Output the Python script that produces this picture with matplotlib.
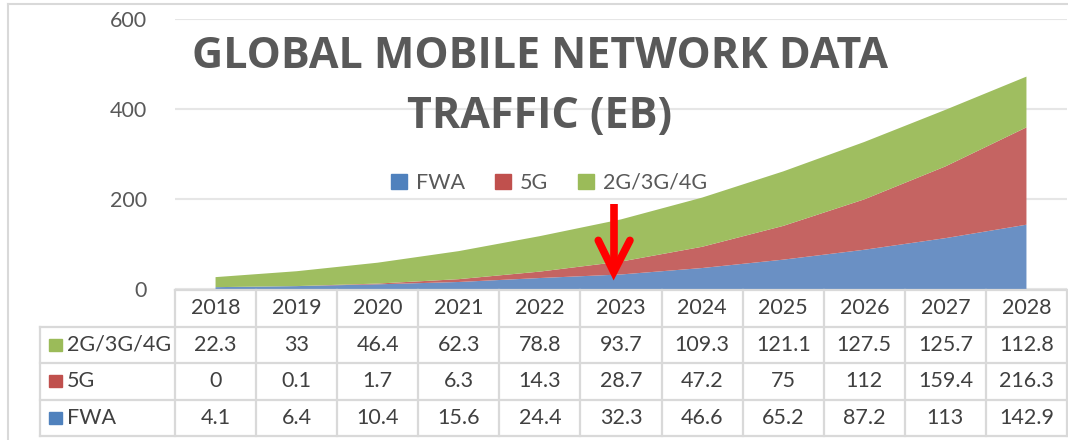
import matplotlib
matplotlib.use("Agg")
import matplotlib.pyplot as plt
from matplotlib.patches import Rectangle
from matplotlib.lines import Line2D

years = ["2018", "2019", "2020", "2021", "2022", "2023", "2024", "2025", "2026", "2027", "2028"]
fwa = [4.1, 6.4, 10.4, 15.6, 24.4, 32.3, 46.6, 65.2, 87.2, 113, 142.9]
g5 = [0, 0.1, 1.7, 6.3, 14.3, 28.7, 47.2, 75, 112, 159.4, 216.3]
g234 = [22.3, 33, 46.4, 62.3, 78.8, 93.7, 109.3, 121.1, 127.5, 125.7, 112.8]
series_names = ["FWA", "5G", "2G/3G/4G"]
fill_colors = ["#6a90c4", "#c56462", "#9fbe60"]
legend_colors = ["#4f81bd", "#c0504d", "#9bbb59"]
title_lines = ["GLOBAL MOBILE NETWORK DATA", "TRAFFIC (EB)"]

plt.rcParams['font.family'] = ['Lato', 'DejaVu Sans']
W, H = 1068, 440
fig = plt.figure(figsize=(W / 100, H / 100), dpi=100)

def px_axes(x0, y0, x1, y1):
    return fig.add_axes([x0 / W, 1 - y1 / H, (x1 - x0) / W, (y1 - y0) / H])

cell = 81.1
ax = px_axes(175, 19, 1067, 289)
x = list(range(len(years)))
ax.stackplot(x, fwa, g5, g234, colors=fill_colors, linewidth=0)
ax.set_xlim(-0.5, len(years) - 0.5)
ax.set_ylim(0, 600)
ax.set_yticks([0, 200, 400, 600])
ax.set_xticks([])
ax.tick_params(axis='y', length=0, pad=20, labelsize=15.5, labelcolor='#595959')
for s in ax.spines.values():
    s.set_visible(False)
ax.grid(axis='y', color='#e6e6e6', lw=1.5)
ax.set_axisbelow(True)

# title
for txt, yp in zip(title_lines, [56, 116]):
    fig.text(540 / W, 1 - yp / H, txt, ha='center', va='center',
             fontsize=31, fontweight='bold', color='#595959', family=['Open Sans', 'DejaVu Sans'])

# legend
handles = [Rectangle((0, 0), 1, 1, color=c) for c in legend_colors]
fig.legend(handles, series_names, loc='center', bbox_to_anchor=(549 / W, 1 - 183 / H),
           ncol=3, frameon=False, fontsize=15.5, labelcolor='#595959',
           handlelength=0.75, handleheight=0.75, handletextpad=0.4, columnspacing=1.4)

# red arrow (annotation)
ax.plot([4.91, 4.91], [42, 188], color='red', lw=5.5, solid_capstyle='butt', zorder=5)
ax.plot([4.72, 4.91, 5.11], [108, 38, 108], color='red', lw=5.5,
        solid_joinstyle='miter', solid_capstyle='round', zorder=5)

# data table
lab_w = 135 / cell
tax = px_axes(40, 290, 1067, 436)
xmin = -0.5 - lab_w
tax.set_xlim(xmin, len(years) - 0.5)
tax.set_ylim(4, 0)
tax.axis('off')
gc = '#d9d9d9'
lw = 1.6
tax.add_line(Line2D([-0.5, len(years) - 0.5], [0, 0], color=gc, lw=lw, clip_on=False))
for r in [1, 2, 3, 4]:
    tax.add_line(Line2D([xmin, len(years) - 0.5], [r, r], color=gc, lw=lw, clip_on=False))
for k in range(len(years) + 1):
    tax.add_line(Line2D([-0.5 + k, -0.5 + k], [0, 4], color=gc, lw=lw, clip_on=False))
tax.add_line(Line2D([xmin, xmin], [1, 4], color=gc, lw=lw, clip_on=False))

tc = '#404040'
for i, y in enumerate(years):
    tax.text(i, 0.5, y, ha='center', va='center', fontsize=15.5, color=tc)
rows = [("2G/3G/4G", g234, legend_colors[2]), ("5G", g5, legend_colors[1]), ("FWA", fwa, legend_colors[0])]
for r, (name, vals, col) in enumerate(rows, start=1):
    tax.add_patch(Rectangle((xmin + 9 / cell, r + 0.5 - 0.17), 13 / cell, 0.34, color=col, clip_on=False))
    tax.text(xmin + 27 / cell, r + 0.5, name, ha='left', va='center', fontsize=15.5, color=tc)
    for i, v in enumerate(vals):
        tax.text(i, r + 0.5, f"{v:g}", ha='center', va='center', fontsize=15.5, color=tc)

# outer chart border (left/top)
fig.add_artist(Line2D([8 / W, 8 / W], [0, 1 - 4 / H], color='#d9d9d9', lw=1.5))
fig.add_artist(Line2D([8 / W, 1], [1 - 4 / H, 1 - 4 / H], color='#d9d9d9', lw=1.5))

fig.savefig('out.png', dpi=100)
